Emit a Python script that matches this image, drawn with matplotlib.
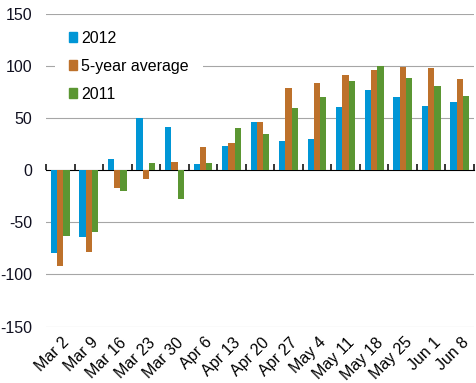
import numpy as np
import matplotlib
matplotlib.use("Agg")
import matplotlib.pyplot as plt
import matplotlib.transforms as mtransforms
from matplotlib.patches import Patch

weeks = ["Mar 2", "Mar 9", "Mar 16", "Mar 23", "Mar 30", "Apr 6", "Apr 13", "Apr 20",
         "Apr 27", "May 4", "May 11", "May 18", "May 25", "Jun 1", "Jun 8"]
y2012 = [-79, -64, 11, 50, 42, 6, 23, 46, 28, 30, 61, 77, 70, 62, 66]
avg5 = [-92, -78, -17, -8, 8, 22, 26, 46, 79, 84, 91, 96, 99, 98, 88]
y2011 = [-63, -59, -20, 7, -28, 7, 41, 35, 60, 70, 86, 100, 89, 81, 71]
yticks = [-150, -100, -50, 0, 50, 100, 150]

names = ["2012", "5-year average", "2011"]
colors = ["#0096D6", "#BD712B", "#5B9632"]

plt.rcParams['font.family'] = ['Liberation Sans', 'DejaVu Sans']

fig = plt.figure(figsize=(4.76, 3.83), dpi=100)
ax = fig.add_axes([0.0966, 0.1475, 0.8992, 0.8159])

x = np.arange(len(weeks))
w = 0.22
for i, (vals, c) in enumerate(zip([y2012, avg5, y2011], colors)):
    ax.bar(x + (i - 1) * w, vals, width=w, color=c, zorder=3)

ax.set_xlim(-0.5, len(weeks) - 0.5)
ax.set_ylim(-150, 150)
ax.set_yticks(yticks)
ax.set_yticklabels([str(v) for v in yticks])
for v in yticks:
    if v != 0:
        ax.axhline(v, color="#A6A6A6", lw=0.8, zorder=1)
ax.tick_params(axis='y', length=0, pad=10, labelsize=11.5, labelcolor="#101020")

ax.set_xticks(x)
ax.set_xticklabels(weeks, rotation=45, ha='right', rotation_mode='anchor', va='top')
ax.tick_params(axis='x', length=0, pad=6, labelsize=11.5)
shift = mtransforms.ScaledTranslation(1.5 / 100, 0, fig.dpi_scale_trans)
for lbl in ax.get_xticklabels():
    lbl.set_transform(lbl.get_transform() + shift)
for s in ax.spines.values():
    s.set_visible(False)

# zero line with category boundary ticks
sec = ax.secondary_xaxis(0.5)
sec.set_xticks(np.arange(len(weeks) + 1) - 0.5)
sec.set_xticklabels([])
sec.tick_params(length=4, width=1.1, color='black', direction='out')
sec.spines['bottom'].set_linewidth(1.1)
sec.spines['bottom'].set_zorder(4)

handles = [Patch(color=c) for c in colors]
leg = ax.legend(handles, names, loc='upper left', bbox_to_anchor=(55 / 476, 1 - 17 / 383),
                bbox_transform=fig.transFigure, frameon=True, fancybox=False,
                edgecolor='none', facecolor='white', framealpha=1,
                borderpad=0.85, borderaxespad=0, handlelength=0.55, handleheight=0.55,
                handletextpad=0.25, labelspacing=0.82, fontsize=11.5)
leg.set_zorder(5)

fig.savefig("out.png", dpi=100)
